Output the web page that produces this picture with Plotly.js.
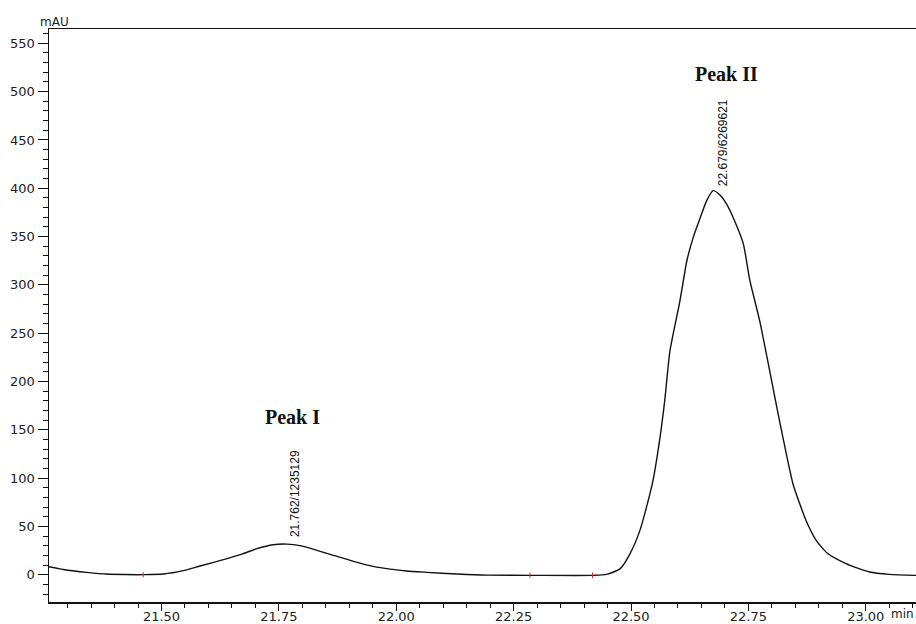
<!DOCTYPE html>
<html>
<head>
<meta charset="utf-8">
<script src="https://cdn.plot.ly/plotly-3.0.1.min.js"></script>
<style>html,body{margin:0;padding:0;background:#fff;}#chart{width:916px;height:624px;}</style>
</head>
<body>
<div id="chart"></div>
<script>
// Chromatogram signal (retention time in min, absorbance in mAU)
const timeMin = [21.260, 21.300, 21.341, 21.383, 21.420, 21.461, 21.504, 21.546, 21.582, 21.632,
  21.674, 21.703, 21.738, 21.767, 21.795, 21.831, 21.866, 21.909, 21.951, 21.987,
  22.022, 22.065, 22.129, 22.193, 22.292, 22.420, 22.448, 22.477, 22.498, 22.519,
  22.533, 22.547, 22.562, 22.572, 22.583, 22.604, 22.619, 22.633, 22.647, 22.661,
  22.675, 22.690, 22.703, 22.720, 22.739, 22.753, 22.774, 22.795, 22.816, 22.845,
  22.859, 22.873, 22.894, 22.919, 22.958, 23.008, 23.050, 23.107];
const signalMAU = [8.5, 4.8, 2.6, 0.8, 0.3, 0.2, 0.8, 4.3, 9.1, 15.7,
  21.9, 27.1, 31.2, 31.8, 30.2, 25.4, 20.2, 14.0, 8.8, 5.9,
  3.9, 2.6, 0.9, -0.3, -0.5, -0.5, 0.5, 6.4, 22, 46,
  70, 98, 143, 181, 232, 283, 325, 350, 369, 387,
  397.5, 392.7, 384, 367, 343, 305, 263, 212, 160, 94,
  74, 56, 36, 22, 11.6, 2.9, 0.5, -0.5];

// Integration baseline markers
const baselineTimes = [21.461, 22.285, 22.418];
const baselineValues = [0.2, -0.5, -0.5];

// Peak table
const peakNames = ["Peak I", "Peak II"];
const peakTimes = [21.762, 22.679];
const peakAreas = [1235129, 6269621];
const peakHeights = [31.8, 397.5];

// Axis ticks
const xTickVals = [21.50, 21.75, 22.00, 22.25, 22.50, 22.75, 23.00];
const xTickText = ["21.50", "21.75", "22.00", "22.25", "22.50", "22.75", "23.00"];
const yTickVals = [0, 50, 100, 150, 200, 250, 300, 350, 400, 450, 500, 550];

const traces = [
  {
    x: timeMin, y: signalMAU, type: 'scatter', mode: 'lines',
    line: {color: '#111', width: 1.4, shape: 'spline', smoothing: 0.6},
    hoverinfo: 'x+y', showlegend: false
  },
  {
    x: baselineTimes, y: baselineValues, type: 'scatter', mode: 'markers',
    marker: {symbol: 'line-ns', size: 4, line: {color: '#e03030', width: 1}},
    showlegend: false, hoverinfo: 'skip'
  }
];

const annotations = [];
const labelShift = [10, 8];
const labelLift = [5, 2];
const namePos = [[21.778, 163], [22.704, 518.6]];
for (let i = 0; i < peakTimes.length; i++) {
  annotations.push({
    x: peakTimes[i], y: peakHeights[i], xref: 'x', yref: 'y',
    text: peakTimes[i].toFixed(3) + '/' + peakAreas[i],
    showarrow: false, textangle: -90, xanchor: 'center', yanchor: 'bottom',
    xshift: labelShift[i], yshift: labelLift[i],
    font: {family: 'Liberation Sans, Arial, sans-serif', size: 12, color: '#111'}
  });
  annotations.push({
    x: namePos[i][0], y: namePos[i][1], xref: 'x', yref: 'y',
    text: '<b>' + peakNames[i] + '</b>', showarrow: false,
    xanchor: 'center', yanchor: 'middle',
    font: {family: 'Liberation Serif, Times New Roman, serif', size: 20, color: '#111'}
  });
}
annotations.push({
  x: (38 - 49) / (916 - 49), y: 1, xref: 'paper', yref: 'paper', text: 'mAU', showarrow: false,
  xanchor: 'left', yanchor: 'bottom', yshift: -2,
  font: {family: 'DejaVu Sans, sans-serif', size: 12, color: '#222'}
});
annotations.push({
  x: 1, y: 0, xref: 'paper', yref: 'paper', text: 'min', showarrow: false,
  xanchor: 'right', yanchor: 'top', yshift: -3,
  font: {family: 'DejaVu Sans, sans-serif', size: 12, color: '#222'}
});

const layout = {
  width: 916, height: 624,
  margin: {l: 49, r: 0, t: 29, b: 22, pad: 0},
  paper_bgcolor: '#fff', plot_bgcolor: '#fff',
  showlegend: false,
  xaxis: {
    range: [21.2604, 23.107], showgrid: false, zeroline: false,
    showline: true, linecolor: '#111', linewidth: 1.5, mirror: true,
    ticks: 'outside', ticklen: 7, tickcolor: '#111', tickwidth: 1,
    tickvals: xTickVals, ticktext: xTickText, ticklabelstandoff: -5,
    minor: {dtick: 0.05, tick0: 21.5, ticks: 'outside', ticklen: 4, tickcolor: '#111', tickwidth: 1},
    tickfont: {family: 'DejaVu Sans, sans-serif', size: 13, color: '#222'}
  },
  yaxis: {
    range: [-28.1, 564.8], showgrid: false, zeroline: false,
    showline: true, linecolor: '#111', linewidth: 1.5,
    ticks: 'outside', ticklen: 10, tickcolor: '#111', tickwidth: 1,
    tickvals: yTickVals,
    minor: {dtick: 10, tick0: 0, ticks: 'outside', ticklen: 5, tickcolor: '#111', tickwidth: 1},
    tickfont: {family: 'DejaVu Sans, sans-serif', size: 13, color: '#222'}
  },
  annotations: annotations
};

Plotly.newPlot('chart', traces, layout, {displayModeBar: false, staticPlot: true});
</script>
</body>
</html>
